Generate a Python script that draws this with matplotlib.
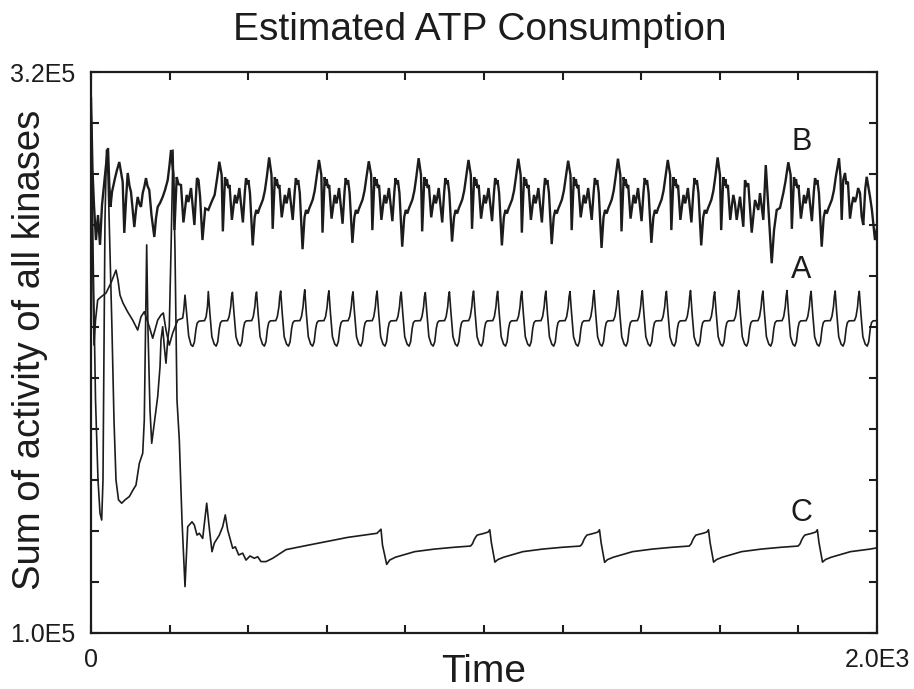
import numpy as np
import matplotlib
matplotlib.use("Agg")
import matplotlib.pyplot as plt

plt.rcParams['font.family'] = ['Liberation Sans', 'DejaVu Sans']

# ---------------- data (time, value in units of 1E3) ----------------
a_t = [0, 3.8, 7.6, 11.5, 17.0, 25.4, 38.2, 50.9, 63.6, 68.7, 73.8, 81.4, 93.4, 106.1, 118.8, 127.2, 135.6,
       148.3, 157.0, 169.7, 178.1, 184.0, 190.8, 199.2, 207.9, 220.6, 233.3, 236.0, 239.2, 243.5, 248.5, 254.5,
       259.0, 263.0, 267.0, 270.0, 275.0, 289.0, 293.0, 296.4,
       298.5, 302.5, 307.5, 313.5, 318.5, 322.5, 326.5, 329.5, 333.5, 347.5, 351.5, 355.5, 357.5,
       359.9, 363.9, 368.9, 374.9, 379.9, 383.9, 387.9, 390.9, 394.9, 408.9, 412.9, 416.9, 418.9,
       421.2, 425.2, 430.2, 436.2, 441.2, 445.2, 449.2, 452.2, 456.2, 470.2, 474.2, 478.2, 480.2,
       482.6, 486.6, 491.6, 497.6, 502.6, 506.6, 510.6, 513.6, 517.6, 531.6, 535.6, 539.6, 541.6,
       543.9, 547.9, 552.9, 558.9, 563.9, 567.9, 571.9, 574.9, 578.9, 592.9, 596.9, 600.9, 602.9,
       605.3, 609.3, 614.3, 620.3, 625.3, 629.3, 633.3, 636.3, 640.3, 654.3, 658.3, 662.3, 664.3,
       666.6, 670.6, 675.6, 681.6, 686.6, 690.6, 694.6, 697.6, 701.6, 715.6, 719.6, 723.6, 725.6,
       728.0, 732.0, 737.0, 743.0, 748.0, 752.0, 756.0, 759.0, 763.0, 777.0, 781.0, 785.0, 787.0,
       789.3, 793.3, 798.3, 804.3, 809.3, 813.3, 817.3, 820.3, 824.3, 838.3, 842.3, 846.3, 848.3,
       850.7, 854.7, 859.7, 865.7, 870.7, 874.7, 878.7, 881.7, 885.7, 899.7, 903.7, 907.7, 909.7,
       912.0, 916.0, 921.0, 927.0, 932.0, 936.0, 940.0, 943.0, 947.0, 961.0, 965.0, 969.0, 971.0,
       973.4, 977.4, 982.4, 988.4, 993.4, 997.4, 1001.4, 1004.4, 1008.4, 1022.4, 1026.4, 1030.4, 1032.4,
       1034.7, 1038.7, 1043.7, 1049.7, 1054.7, 1058.7, 1062.7, 1065.7, 1069.7, 1083.7, 1087.7, 1091.7, 1093.7,
       1096.1, 1100.1, 1105.1, 1111.1, 1116.1, 1120.1, 1124.1, 1127.1, 1131.1, 1145.1, 1149.1, 1153.1, 1155.1,
       1157.4, 1161.4, 1166.4, 1172.4, 1177.4, 1181.4, 1185.4, 1188.4, 1192.4, 1206.4, 1210.4, 1214.4, 1216.4,
       1218.8, 1222.8, 1227.8, 1233.8, 1238.8, 1242.8, 1246.8, 1249.8, 1253.8, 1267.8, 1271.8, 1275.8, 1277.8,
       1280.1, 1284.1, 1289.1, 1295.1, 1300.1, 1304.1, 1308.1, 1311.1, 1315.1, 1329.1, 1333.1, 1337.1, 1339.1,
       1341.5, 1345.5, 1350.5, 1356.5, 1361.5, 1365.5, 1369.5, 1372.5, 1376.5, 1390.5, 1394.5, 1398.5, 1400.5,
       1402.8, 1406.8, 1411.8, 1417.8, 1422.8, 1426.8, 1430.8, 1433.8, 1437.8, 1451.8, 1455.8, 1459.8, 1461.8,
       1464.2, 1468.2, 1473.2, 1479.2, 1484.2, 1488.2, 1492.2, 1495.2, 1499.2, 1513.2, 1517.2, 1521.2, 1523.2,
       1525.5, 1529.5, 1534.5, 1540.5, 1545.5, 1549.5, 1553.5, 1556.5, 1560.5, 1574.5, 1578.5, 1582.5, 1584.5,
       1586.9, 1590.9, 1595.9, 1601.9, 1606.9, 1610.9, 1614.9, 1617.9, 1621.9, 1635.9, 1639.9, 1643.9, 1645.9,
       1648.2, 1652.2, 1657.2, 1663.2, 1668.2, 1672.2, 1676.2, 1679.2, 1683.2, 1697.2, 1701.2, 1705.2, 1707.2,
       1709.6, 1713.6, 1718.6, 1724.6, 1729.6, 1733.6, 1737.6, 1740.6, 1744.6, 1758.6, 1762.6, 1766.6, 1768.6,
       1770.9, 1774.9, 1779.9, 1785.9, 1790.9, 1794.9, 1798.9, 1801.9, 1805.9, 1819.9, 1823.9, 1827.9, 1829.9,
       1832.3, 1836.3, 1841.3, 1847.3, 1852.3, 1856.3, 1860.3, 1863.3, 1867.3, 1881.3, 1885.3, 1889.3, 1891.3,
       1893.6, 1897.6, 1902.6, 1908.6, 1913.6, 1917.6, 1921.6, 1924.6, 1928.6, 1942.6, 1946.6, 1950.6, 1952.6,
       1955.0, 1959.0, 1964.0, 1970.0, 1975.0, 1979.0, 1983.0, 1986.0, 1990.0, 2000.0]
a_v = [309.8, 250.2, 212.9, 222.7, 230.6, 231.8, 233.3, 237.3, 242.3, 238.4, 232.5, 229.4, 225.9, 222.7, 218.8, 224.0, 226.0,
       220.1, 215.6, 222.7, 224.7, 225.5, 218.8, 212.9, 217.6, 222.7, 223.5, 226.5, 232.5, 225.0, 216.5, 213.0,
       212.4, 214.0, 219.0, 221.5, 222.3, 222.5, 224.1, 228.0,
       233.9, 225.4, 216.2, 213.3, 212.5, 214.2, 219.5, 221.7, 222.4, 222.5, 224.1, 228.0, 231.8,
       233.6, 225.4, 216.2, 213.3, 212.5, 214.2, 219.5, 221.7, 222.4, 222.5, 224.1, 228.0, 231.8,
       233.7, 225.4, 216.2, 213.3, 212.5, 214.2, 219.5, 221.7, 222.4, 222.5, 224.1, 228.0, 231.8,
       234.1, 225.4, 216.2, 213.3, 212.5, 214.2, 219.5, 221.7, 222.4, 222.5, 224.1, 228.0, 231.8,
       234.6, 225.4, 216.2, 213.3, 212.5, 214.2, 219.5, 221.7, 222.4, 222.5, 224.1, 228.0, 231.8,
       234.2, 225.4, 216.2, 213.3, 212.5, 214.2, 219.5, 221.7, 222.4, 222.5, 224.1, 228.0, 231.8,
       233.8, 225.4, 216.2, 213.3, 212.5, 214.2, 219.5, 221.7, 222.4, 222.5, 224.1, 228.0, 231.8,
       234.1, 225.4, 216.2, 213.3, 212.5, 214.2, 219.5, 221.7, 222.4, 222.5, 224.1, 228.0, 231.8,
       233.7, 225.4, 216.2, 213.3, 212.5, 214.2, 219.5, 221.7, 222.4, 222.5, 224.1, 228.0, 231.8,
       233.5, 225.4, 216.2, 213.3, 212.5, 214.2, 219.5, 221.7, 222.4, 222.5, 224.1, 228.0, 231.8,
       233.8, 225.4, 216.2, 213.3, 212.5, 214.2, 219.5, 221.7, 222.4, 222.5, 224.1, 228.0, 231.8,
       234.1, 225.4, 216.2, 213.3, 212.5, 214.2, 219.5, 221.7, 222.4, 222.5, 224.1, 228.0, 231.8,
       234.0, 225.4, 216.2, 213.3, 212.5, 214.2, 219.5, 221.7, 222.4, 222.5, 224.1, 228.0, 231.8,
       234.0, 225.4, 216.2, 213.3, 212.5, 214.2, 219.5, 221.7, 222.4, 222.5, 224.1, 228.0, 231.8,
       234.1, 225.4, 216.2, 213.3, 212.5, 214.2, 219.5, 221.7, 222.4, 222.5, 224.1, 228.0, 231.8,
       233.9, 225.4, 216.2, 213.3, 212.5, 214.2, 219.5, 221.7, 222.4, 222.5, 224.1, 228.0, 231.8,
       234.3, 225.4, 216.2, 213.3, 212.5, 214.2, 219.5, 221.7, 222.4, 222.5, 224.1, 228.0, 231.8,
       234.2, 225.4, 216.2, 213.3, 212.5, 214.2, 219.5, 221.7, 222.4, 222.5, 224.1, 228.0, 231.8,
       234.2, 225.4, 216.2, 213.3, 212.5, 214.2, 219.5, 221.7, 222.4, 222.5, 224.1, 228.0, 231.8,
       234.0, 225.4, 216.2, 213.3, 212.5, 214.2, 219.5, 221.7, 222.4, 222.5, 224.1, 228.0, 231.8,
       234.3, 225.4, 216.2, 213.3, 212.5, 214.2, 219.5, 221.7, 222.4, 222.5, 224.1, 228.0, 231.8,
       233.8, 225.4, 216.2, 213.3, 212.5, 214.2, 219.5, 221.7, 222.4, 222.5, 224.1, 228.0, 231.8,
       234.3, 225.4, 216.2, 213.3, 212.5, 214.2, 219.5, 221.7, 222.4, 222.5, 224.1, 228.0, 231.8,
       234.1, 225.4, 216.2, 213.3, 212.5, 214.2, 219.5, 221.7, 222.4, 222.5, 224.1, 228.0, 231.8,
       234.3, 225.4, 216.2, 213.3, 212.5, 214.2, 219.5, 221.7, 222.4, 222.5, 224.1, 228.0, 231.8,
       234.0, 225.4, 216.2, 213.3, 212.5, 214.2, 219.5, 221.7, 222.4, 222.5, 224.1, 228.0, 231.8,
       234.1, 225.4, 216.2, 213.3, 212.5, 214.2, 219.5, 221.7, 222.4, 222.5, 224.1, 228.0, 231.8,
       234.0, 225.4, 216.2, 213.3, 212.5, 214.2, 219.5, 221.7, 222.4, 222.5]

b_t = [0, 3.8, 7.6, 12.7, 17.8, 22.9, 28.0, 33.1, 38.2, 43.3, 46.6, 49.6, 53.4, 61.1, 66.2, 72.0, 76.3, 80.6,
       84.7, 89.1, 93.4, 98.0, 101.8, 110.2, 114.5, 118.8, 123.4, 127.2, 131.6, 136.1, 139.9, 143.8, 148.3,
       153.9, 161.1, 165.4, 169.7, 175.6, 182.4, 188.3, 195.2, 199.8, 203.6,
       209.7, 212.3, 218.1, 222.6, 229.0, 235.2, 243.5, 247.9, 254.5, 263.1, 269.6, 273.6, 277.6, 283.6,
       290.6, 298.6, 306.6, 314.6, 321.6,
       326.5, 332.5, 335.5, 341.0, 343.5, 346.0, 349.5, 352.5, 358.5, 363.5, 366.5, 370.5, 373.5, 377.5, 386.5,
       391.5, 394.5, 397.5, 400.5, 404.5, 411.5, 416.5, 420.5, 424.5, 428.5, 432.5, 437.5, 442.5, 447.5,
       453.3, 459.3, 462.3, 467.8, 470.3, 472.8, 476.3, 479.3, 485.3, 490.3, 493.3, 497.3, 500.3, 504.3, 513.3,
       518.3, 521.3, 524.3, 527.3, 531.3, 538.3, 543.3, 547.3, 551.3, 555.3, 559.3, 564.3, 569.3, 574.3,
       580.1, 586.1, 589.1, 594.6, 597.1, 599.6, 603.1, 606.1, 612.1, 617.1, 620.1, 624.1, 627.1, 631.1, 640.1,
       645.1, 648.1, 651.1, 654.1, 658.1, 665.1, 670.1, 674.1, 678.1, 682.1, 686.1, 691.1, 696.1, 701.1,
       706.9, 712.9, 715.9, 721.4, 723.9, 726.4, 729.9, 732.9, 738.9, 743.9, 746.9, 750.9, 753.9, 757.9, 766.9,
       771.9, 774.9, 777.9, 780.9, 784.9, 791.9, 796.9, 800.9, 804.9, 808.9, 812.9, 817.9, 822.9, 827.9,
       833.7, 839.7, 842.7, 848.2, 850.7, 853.2, 856.7, 859.7, 865.7, 870.7, 873.7, 877.7, 880.7, 884.7, 893.7,
       898.7, 901.7, 904.7, 907.7, 911.7, 918.7, 923.7, 927.7, 931.7, 935.7, 939.7, 944.7, 949.7, 954.7,
       960.5, 966.5, 969.5, 975.0, 977.5, 980.0, 983.5, 986.5, 992.5, 997.5, 1000.5, 1004.5, 1007.5, 1011.5, 1020.5,
       1025.5, 1028.5, 1031.5, 1034.5, 1038.5, 1045.5, 1050.5, 1054.5, 1058.5, 1062.5, 1066.5, 1071.5, 1076.5, 1081.5,
       1087.3, 1093.3, 1096.3, 1101.8, 1104.3, 1106.8, 1110.3, 1113.3, 1119.3, 1124.3, 1127.3, 1131.3, 1134.3, 1138.3, 1147.3,
       1152.3, 1155.3, 1158.3, 1161.3, 1165.3, 1172.3, 1177.3, 1181.3, 1185.3, 1189.3, 1193.3, 1198.3, 1203.3, 1208.3,
       1214.1, 1220.1, 1223.1, 1228.6, 1231.1, 1233.6, 1237.1, 1240.1, 1246.1, 1251.1, 1254.1, 1258.1, 1261.1, 1265.1, 1274.1,
       1279.1, 1282.1, 1285.1, 1288.1, 1292.1, 1299.1, 1304.1, 1308.1, 1312.1, 1316.1, 1320.1, 1325.1, 1330.1, 1335.1,
       1340.9, 1346.9, 1349.9, 1355.4, 1357.9, 1360.4, 1363.9, 1366.9, 1372.9, 1377.9, 1380.9, 1384.9, 1387.9, 1391.9, 1400.9,
       1405.9, 1408.9, 1411.9, 1414.9, 1418.9, 1425.9, 1430.9, 1434.9, 1438.9, 1442.9, 1446.9, 1451.9, 1456.9, 1461.9,
       1467.7, 1473.7, 1476.7, 1482.2, 1484.7, 1487.2, 1490.7, 1493.7, 1499.7, 1504.7, 1507.7, 1511.7, 1514.7, 1518.7, 1527.7,
       1532.7, 1535.7, 1538.7, 1541.7, 1545.7, 1552.7, 1557.7, 1561.7, 1565.7, 1569.7, 1573.7, 1578.7, 1583.7, 1588.7,
       1594.5, 1600.5, 1603.5, 1609.0, 1611.5, 1614.0, 1617.5, 1620.5, 1626.5, 1631.5, 1634.5, 1638.5, 1643.0, 1651.4,
       1659.8, 1664.1, 1668.0, 1672.5, 1681.2, 1689.6, 1698.0, 1702.3, 1710.7, 1717.0, 1723.0, 1732.1, 1738.0, 1744.8,
       1753.2, 1761.6, 1767.0,
       1774.3, 1780.3, 1783.3, 1788.8, 1791.3, 1793.8, 1797.3, 1800.3, 1806.3, 1811.3, 1814.3, 1818.3, 1821.3, 1825.3, 1834.3,
       1839.3, 1842.3, 1845.3, 1848.3, 1852.3, 1859.3, 1864.3, 1868.3, 1872.3, 1876.3, 1880.3, 1885.3, 1890.3, 1895.3,
       1903.3, 1907.0, 1910.2, 1914.0, 1918.6, 1922.0, 1926.0, 1931.3, 1936.0, 1940.0, 1944.1, 1948.0, 1952.0, 1956.8,
       1961.0, 1965.1, 1970.0, 1973.8, 1977.0, 1982.2, 1987.0, 1994.9, 2000.0]
b_v = [309.8, 281.6, 267.8, 254.1, 263.9, 252.2, 267.8, 275.7, 283.5, 290.2, 275.7, 267.1, 272.9, 278.4, 281.6, 284.7, 280.8, 276.9,
       256.9, 269.8, 280.4, 275.3, 272.9, 259.2, 265.9, 271.0, 268.2, 267.1, 272.5, 275.3, 278.4, 275.3, 273.7,
       263.9, 255.3, 262.7, 267.1, 268.6, 271.0, 273.7, 277.6, 283.5, 289.4,
       279.6, 258.0, 278.8, 276.0, 275.7, 261.0, 271.8, 269.0, 274.5, 260.0, 278.4, 277.6, 271.0, 254.1,
       266.5, 265.9, 269.0, 271.8, 279.0,
       284.8, 279.6, 257.5, 278.8, 275.5, 278.0, 274.5, 275.7, 262.0, 268.5, 271.8, 268.5, 270.5, 274.5, 261.0,
       273.0, 278.4, 276.0, 277.6, 272.5, 252.0, 263.0, 265.9, 264.5, 266.5, 268.0, 270.0, 273.5, 279.0,
       286.5, 279.6, 258.5, 278.8, 275.5, 278.0, 274.5, 275.7, 263.0, 268.5, 271.8, 268.5, 270.5, 274.5, 262.0,
       273.0, 278.4, 276.0, 277.6, 272.5, 250.5, 263.0, 265.9, 264.5, 266.5, 268.0, 270.0, 273.5, 279.0,
       285.5, 279.6, 257.0, 278.8, 275.5, 278.0, 274.5, 275.7, 262.5, 268.5, 271.8, 268.5, 270.5, 274.5, 260.5,
       273.0, 278.4, 276.0, 277.6, 272.5, 253.0, 263.0, 265.9, 264.5, 266.5, 268.0, 270.0, 273.5, 279.0,
       285.0, 279.6, 258.0, 278.8, 275.5, 278.0, 274.5, 275.7, 262.0, 268.5, 271.8, 268.5, 270.5, 274.5, 261.5,
       273.0, 278.4, 276.0, 277.6, 272.5, 251.5, 263.0, 265.9, 264.5, 266.5, 268.0, 270.0, 273.5, 279.0,
       286.2, 279.6, 257.5, 278.8, 275.5, 278.0, 274.5, 275.7, 263.0, 268.5, 271.8, 268.5, 270.5, 274.5, 261.0,
       273.0, 278.4, 276.0, 277.6, 272.5, 253.5, 263.0, 265.9, 264.5, 266.5, 268.0, 270.0, 273.5, 279.0,
       285.5, 279.6, 258.5, 278.8, 275.5, 278.0, 274.5, 275.7, 262.5, 268.5, 271.8, 268.5, 270.5, 274.5, 261.5,
       273.0, 278.4, 276.0, 277.6, 272.5, 252.0, 263.0, 265.9, 264.5, 266.5, 268.0, 270.0, 273.5, 279.0,
       286.0, 279.6, 257.0, 278.8, 275.5, 278.0, 274.5, 275.7, 262.0, 268.5, 271.8, 268.5, 270.5, 274.5, 261.0,
       273.0, 278.4, 276.0, 277.6, 272.5, 252.5, 263.0, 265.9, 264.5, 266.5, 268.0, 270.0, 273.5, 279.0,
       285.2, 279.6, 258.0, 278.8, 275.5, 278.0, 274.5, 275.7, 263.0, 268.5, 271.8, 268.5, 270.5, 274.5, 262.0,
       273.0, 278.4, 276.0, 277.6, 272.5, 251.0, 263.0, 265.9, 264.5, 266.5, 268.0, 270.0, 273.5, 279.0,
       286.0, 279.6, 257.5, 278.8, 275.5, 278.0, 274.5, 275.7, 262.5, 268.5, 271.8, 268.5, 270.5, 274.5, 261.5,
       273.0, 278.4, 276.0, 277.6, 272.5, 253.0, 263.0, 265.9, 264.5, 266.5, 268.0, 270.0, 273.5, 279.0,
       285.5, 279.6, 258.0, 278.8, 275.5, 278.0, 274.5, 275.7, 262.0, 268.5, 271.8, 268.5, 270.5, 274.5, 261.0,
       273.0, 278.4, 276.0, 277.6, 272.5, 252.0, 263.0, 265.9, 264.5, 266.5, 268.0, 270.0, 273.5, 279.0,
       286.5, 279.6, 258.0, 278.8, 275.5, 278.0, 274.5, 275.7, 262.0, 268.5, 271.8, 268.5, 262.0, 271.1,
       259.3, 277.6, 275.5, 276.3, 257.0, 269.8, 265.9, 272.5, 262.0, 283.5, 268.0, 245.0, 258.0, 265.9,
       266.7, 272.5, 277.0,
       284.6, 279.6, 258.5, 278.8, 275.5, 278.0, 274.5, 275.7, 262.5, 268.5, 271.8, 268.5, 270.5, 274.5, 261.5,
       273.0, 278.4, 276.0, 277.6, 272.5, 251.5, 263.0, 265.9, 264.5, 266.5, 268.0, 270.0, 273.5, 279.0,
       286.2, 279.0, 262.0, 277.6, 280.4, 276.0, 277.0, 262.5, 268.0, 271.0, 269.0, 271.0, 274.5, 272.5,
       263.3, 260.0, 274.0, 278.9, 276.0, 271.1, 266.0, 254.1, 258.8]

c_t = [0, 5.1, 11.5, 17.8, 22.9, 27.2, 30.5, 33.1, 35.6, 39.4, 43.3, 48.3, 53.4, 58.5, 63.6, 70.0, 78.1, 86.5,
       97.5, 106.9, 114.5, 122.9, 131.6, 135.6, 138.7, 141.7, 145.0, 150.1, 154.5, 161.1, 169.7, 175.6, 178.1,
       182.4, 186.5, 190.8, 195.2, 199.2, 203.6, 208.6, 213.7, 218.8, 224.7, 231.5, 239.2, 246.1, 257.0, 262.8,
       269.7, 275.6, 284.2, 294.4, 301.5, 307.9, 313.7, 326.5, 335.1, 341.7, 347.8, 353.7, 360.6, 367.2, 375.8,
       386.0, 394.4, 404.6, 415.5, 424.2, 432.6, 445.3, 462.3, 496.2, 554.4, 653.4, 727.7, 737.9, 741.7,
       752.4, 760.0, 774.3, 823.6, 873.3, 922.6, 965.7, 970.7, 974.7, 978.7, 982.7, 1000.7, 1010.7, 1014.7, 1018.7,
       1027.7, 1035.3, 1049.6, 1098.9, 1148.6, 1197.9, 1244.9, 1249.9, 1253.9, 1257.9, 1261.9, 1279.9, 1289.9, 1293.9, 1297.9,
       1306.9, 1314.5, 1328.8, 1378.1, 1427.8, 1477.1, 1522.2, 1527.2, 1531.2, 1535.2, 1539.2, 1557.2, 1567.2, 1571.2, 1575.2,
       1584.2, 1591.8, 1606.1, 1655.4, 1705.1, 1754.4, 1799.3, 1804.3, 1808.3, 1812.3, 1816.3, 1834.3, 1844.3, 1848.3, 1852.3,
       1861.3, 1868.9, 1883.2, 1932.5, 1982.2, 2000.0]
c_v = [309.8, 250.2, 191.4, 160.0, 147.0, 144.3, 160.0, 211.0, 262.0, 289.4, 279.6, 250.2, 218.8, 183.5, 160.0, 152.2, 150.9, 152.2,
       153.5, 156.1, 158.0, 166.5, 170.5, 183.5, 218.8, 252.2, 218.8, 187.5, 174.4, 182.2, 192.7, 204.4, 214.9,
       220.1, 212.3, 205.8, 214.9, 220.1, 250.2, 289.4, 250.2, 191.4, 175.7, 144.3, 118.2, 141.7, 143.6, 142.4,
       138.4, 139.1, 137.1, 150.9, 140.4, 131.9, 135.2, 138.4, 141.7, 146.3, 140.4, 137.1, 133.2, 133.8, 130.6,
       131.3, 128.6, 130.2, 129.3, 129.9, 128.0, 128.0, 129.3, 132.7, 134.5, 137.5, 139.1, 140.7, 134.5,
       126.9, 128.6, 129.7, 131.9, 132.9, 133.6, 134.1, 135.0, 136.5, 137.6, 138.4, 139.1, 139.6, 140.5, 135.5,
       127.8, 128.8, 129.7, 131.9, 132.9, 133.6, 134.1, 135.0, 136.5, 137.6, 138.4, 139.1, 139.6, 140.5, 135.5,
       127.7, 128.8, 129.7, 131.9, 132.9, 133.6, 134.1, 135.0, 136.5, 137.6, 138.4, 139.1, 139.6, 140.5, 135.5,
       127.8, 128.8, 129.7, 131.9, 132.9, 133.6, 134.1, 135.0, 136.5, 137.6, 138.4, 139.1, 139.6, 140.5, 135.5,
       127.8, 128.8, 129.7, 131.9, 132.9, 133.4]

series_labels = ['A', 'B', 'C']
label_x = [1808, 1808, 1808]
label_y = [242.3, 292.4, 147.2]

x_ticks = [0, 200, 400, 600, 800, 1000, 1200, 1400, 1600, 1800, 2000]
x_tick_labels = ['0', '', '', '', '', '', '', '', '', '', '2.0E3']
y_ticks = [100, 120, 140, 160, 180, 200, 220, 240, 260, 280, 300, 320]
y_tick_labels = ['1.0E5', '', '', '', '', '', '', '', '', '', '', '3.2E5']

title = 'Estimated ATP Consumption'
x_label = 'Time'
y_label = 'Sum of activity of all kinases'

# ---------------- figure ----------------
fig = plt.figure(figsize=(9.14, 6.89), dpi=100)
ax = fig.add_axes([91 / 914, 56 / 689, 786 / 914, 561 / 689])

ink = '#1c1c1c'
ax.plot(a_t, a_v, color=ink, lw=1.2, solid_joinstyle='round')
ax.plot(b_t, b_v, color=ink, lw=1.7, solid_joinstyle='miter')
ax.plot(c_t, c_v, color=ink, lw=1.2, solid_joinstyle='round')

for s, lx, ly in zip(series_labels, label_x, label_y):
    ax.text(lx, ly, s, fontsize=22, ha='center', va='center', color=ink)

ax.set_xlim(0, 2000)
ax.set_ylim(100, 320)
ax.set_xticks(x_ticks)
ax.set_xticklabels(x_tick_labels)
ax.set_yticks(y_ticks)
ax.set_yticklabels(y_tick_labels)
ax.tick_params(direction='in', length=5.5, width=1.5, top=True, right=True,
               labelsize=18, colors=ink)
ax.tick_params(axis='x', pad=11)
ax.tick_params(axis='y', pad=11)
for sp in ax.spines.values():
    sp.set_linewidth(1.6)
    sp.set_color(ink)

fig.text(480 / 914, 1 - 30 / 689, title, fontsize=28, ha='center', va='center', color=ink)
fig.text(484 / 914, 1 - 672 / 689, x_label, fontsize=28, ha='center', va='center', color=ink)
fig.text(30 / 914, 1 - 350 / 689, y_label, fontsize=27.5, ha='center', va='center',
         rotation=90, color=ink)

fig.savefig('out.png', dpi=100, facecolor='white')
